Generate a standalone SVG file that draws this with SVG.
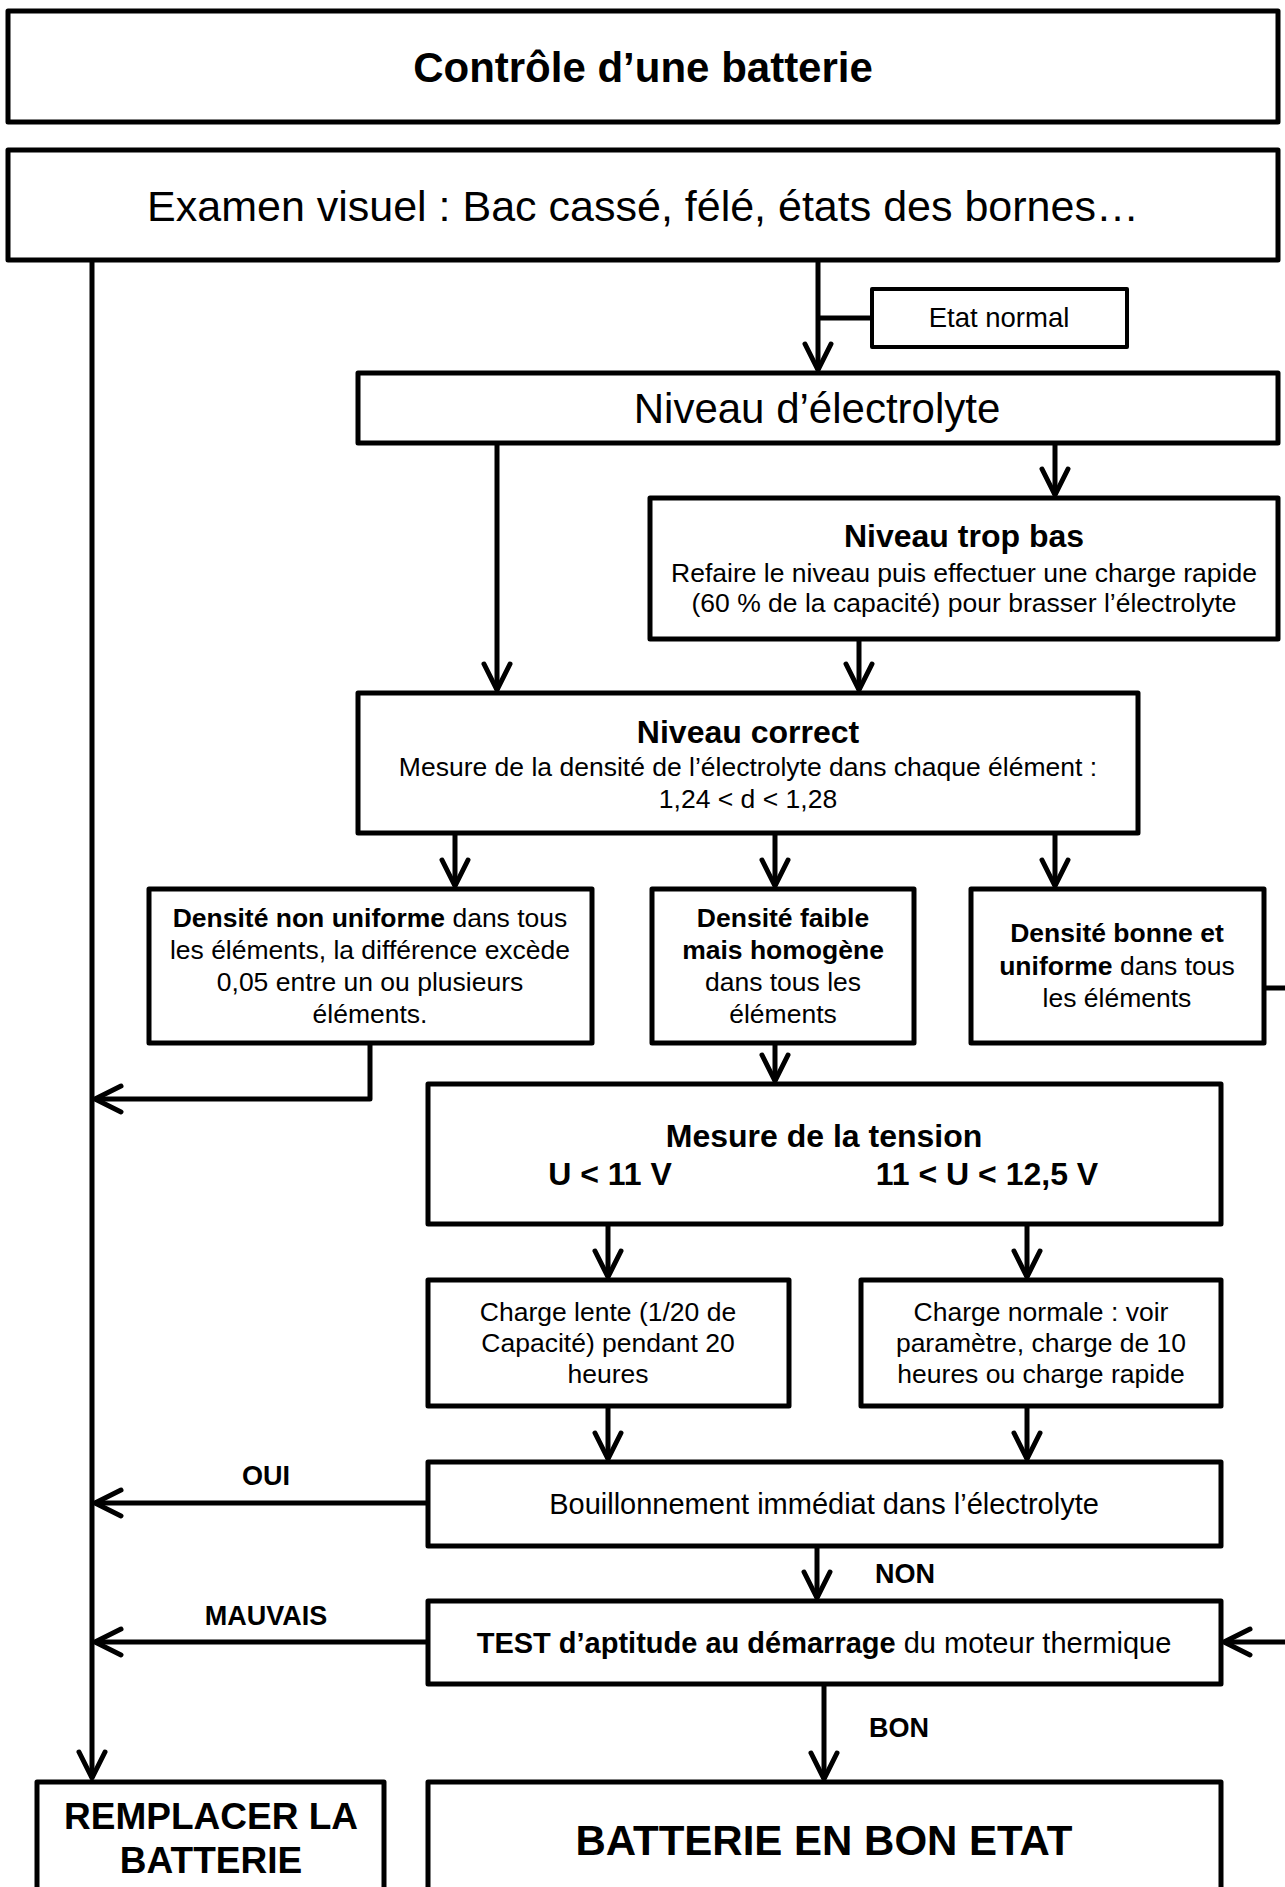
<svg xmlns="http://www.w3.org/2000/svg" width="1285" height="1887" viewBox="0 0 1285 1887">
<style>
text{font-family:"Liberation Sans",Arial,Helvetica,sans-serif;fill:#000}
.box{fill:#fff;stroke:#000;stroke-width:5;stroke-linejoin:round}
.thin{stroke-width:4}
.ln{fill:none;stroke:#000;stroke-width:5;stroke-linejoin:round}
.c{text-anchor:middle}
.b{font-weight:bold}
.t42{font-size:42px}
.t32{font-size:32px}
.t29{font-size:29px}
.t265{font-size:26.5px}
.lbl{font-size:27px;font-weight:bold}
</style>
<defs>
<marker id="arr" markerUnits="userSpaceOnUse" markerWidth="60" markerHeight="60" refX="0" refY="0" orient="auto" overflow="visible" viewBox="-40 -30 60 60">
<path d="M-26,-13 L0,0 L-26,13" fill="none" stroke="#000" stroke-width="5" stroke-linecap="round" stroke-linejoin="round"/>
</marker>
</defs>
<g id="connectors">
<path class="ln" d="M92,260 V1778" marker-end="url(#arr)"/>
<path class="ln" d="M818,260 V370" marker-end="url(#arr)"/>
<path class="ln" d="M818,318 H872"/>
<path class="ln" d="M497,443 V690" marker-end="url(#arr)"/>
<path class="ln" d="M1055,443 V495" marker-end="url(#arr)"/>
<path class="ln" d="M859,639 V690" marker-end="url(#arr)"/>
<path class="ln" d="M455,833 V886" marker-end="url(#arr)"/>
<path class="ln" d="M775,833 V886" marker-end="url(#arr)"/>
<path class="ln" d="M1055,833 V886" marker-end="url(#arr)"/>
<path class="ln" d="M370,1043 V1099 H95" marker-end="url(#arr)"/>
<path class="ln" d="M775,1043 V1081" marker-end="url(#arr)"/>
<path class="ln" d="M1264,988 H1292 V1642 H1224" marker-end="url(#arr)"/>
<path class="ln" d="M608,1224 V1277" marker-end="url(#arr)"/>
<path class="ln" d="M1027,1224 V1277" marker-end="url(#arr)"/>
<path class="ln" d="M608,1406 V1459" marker-end="url(#arr)"/>
<path class="ln" d="M1027,1406 V1459" marker-end="url(#arr)"/>
<path class="ln" d="M428,1503 H95" marker-end="url(#arr)"/>
<path class="ln" d="M817,1546 V1598" marker-end="url(#arr)"/>
<path class="ln" d="M428,1642 H95" marker-end="url(#arr)"/>
<path class="ln" d="M824,1684 V1779" marker-end="url(#arr)"/>
<text class="lbl c" x="266" y="1485">OUI</text>
<text class="lbl" x="875" y="1583">NON</text>
<text class="lbl c" x="266" y="1625">MAUVAIS</text>
<text class="lbl" x="869" y="1737">BON</text>
</g>
<g id="title">
<rect class="box" x="8" y="11" width="1270" height="111"/>
<text class="c b t42" x="643" y="82">Contrôle d’une batterie</text>
</g>
<g id="examen">
<rect class="box" x="8" y="150" width="1270" height="110"/>
<text class="c" x="643" y="221" style="font-size:43px">Examen visuel : Bac cassé, félé, états des bornes…</text>
</g>
<g id="etat-normal">
<rect class="box thin" x="872" y="289" width="255" height="58"/>
<text class="c" x="999" y="327" style="font-size:27.5px">Etat normal</text>
</g>
<g id="niveau-electrolyte">
<rect class="box" x="358" y="373" width="920" height="70"/>
<text class="c t42" x="817" y="423">Niveau d’électrolyte</text>
</g>
<g id="niveau-trop-bas">
<rect class="box" x="650" y="498" width="628" height="141"/>
<text class="c b t32" x="964" y="547">Niveau trop bas</text>
<text class="c t265" x="964" y="582">Refaire le niveau puis effectuer une charge rapide</text>
<text class="c t265" x="964" y="612">(60 % de la capacité) pour brasser l’électrolyte</text>
</g>
<g id="niveau-correct">
<rect class="box" x="358" y="693" width="780" height="140"/>
<text class="c b t32" x="748" y="743">Niveau correct</text>
<text class="c t265" x="748" y="776">Mesure de la densité de l’électrolyte dans chaque élément :</text>
<text class="c t265" x="748" y="808">1,24 &lt; d &lt; 1,28</text>
</g>
<g id="densite-non-uniforme">
<rect class="box" x="149" y="889" width="443" height="154"/>
<text class="c t265" x="370" y="927"><tspan class="b">Densité non uniforme</tspan> dans tous</text>
<text class="c t265" x="370" y="959">les éléments, la différence excède</text>
<text class="c t265" x="370" y="991">0,05 entre un ou plusieurs</text>
<text class="c t265" x="370" y="1023">éléments.</text>
</g>
<g id="densite-faible">
<rect class="box" x="652" y="889" width="262" height="154"/>
<text class="c t265 b" x="783" y="927">Densité faible</text>
<text class="c t265 b" x="783" y="959">mais homogène</text>
<text class="c t265" x="783" y="991">dans tous les</text>
<text class="c t265" x="783" y="1023">éléments</text>
</g>
<g id="densite-bonne">
<rect class="box" x="971" y="889" width="293" height="154"/>
<text class="c t265 b" x="1117" y="942">Densité bonne et</text>
<text class="c t265" x="1117" y="975"><tspan class="b">uniforme</tspan> dans tous</text>
<text class="c t265" x="1117" y="1007">les éléments</text>
</g>
<g id="mesure-tension">
<rect class="box" x="428" y="1084" width="793" height="140"/>
<text class="c b t32" x="824" y="1147">Mesure de la tension</text>
<text class="c b t32" x="610" y="1185">U &lt; 11 V</text>
<text class="c b t32" x="987" y="1185">11 &lt; U &lt; 12,5 V</text>
</g>
<g id="charge-lente">
<rect class="box" x="428" y="1280" width="361" height="126"/>
<text class="c t265" x="608" y="1321">Charge lente (1/20 de</text>
<text class="c t265" x="608" y="1352">Capacité) pendant 20</text>
<text class="c t265" x="608" y="1383">heures</text>
</g>
<g id="charge-normale">
<rect class="box" x="861" y="1280" width="360" height="126"/>
<text class="c t265" x="1041" y="1321">Charge normale : voir</text>
<text class="c t265" x="1041" y="1352">paramètre, charge de 10</text>
<text class="c t265" x="1041" y="1383">heures ou charge rapide</text>
</g>
<g id="bouillonnement">
<rect class="box" x="428" y="1462" width="793" height="84"/>
<text class="c t29" x="824" y="1514">Bouillonnement immédiat dans l’électrolyte</text>
</g>
<g id="test-demarrage">
<rect class="box" x="428" y="1601" width="793" height="83"/>
<text class="c t29" x="824" y="1653"><tspan class="b">TEST d’aptitude au démarrage</tspan> du moteur thermique</text>
</g>
<g id="remplacer">
<rect class="box" x="37" y="1782" width="347" height="150"/>
<text class="c b" x="211" y="1829" style="font-size:37px">REMPLACER LA</text>
<text class="c b" x="211" y="1873" style="font-size:37px">BATTERIE</text>
</g>
<g id="bon-etat">
<rect class="box" x="428" y="1782" width="793" height="150"/>
<text class="c b t42" x="824" y="1855">BATTERIE EN BON ETAT</text>
</g>
</svg>
